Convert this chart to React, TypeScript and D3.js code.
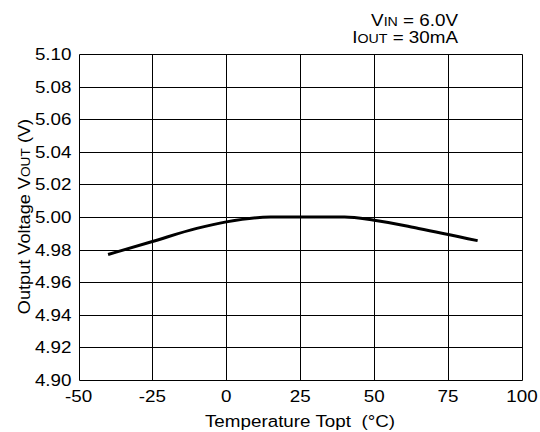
import React from 'react';
import * as d3 from 'd3';

// temperature (°C) and output voltage (V)
const temps = [-40, -25, -10, 0, 15, 25, 40, 50, 65, 85];
const vout = [4.977, 4.985, 4.993, 4.997, 5.0, 5.0, 5.0, 4.998, 4.993, 4.9855];

const xTicks = [-50, -25, 0, 25, 50, 75, 100];
const yTicks = [4.9, 4.92, 4.94, 4.96, 4.98, 5.0, 5.02, 5.04, 5.06, 5.08, 5.1];

const W = 540;
const H = 432;
const left = 78.5;
const right = 522;
const top = 54;
const bottom = 380;
const font = 'Liberation Sans, Arial, Helvetica, sans-serif';
const fs = 16.5;
const stretch = 1.14;

// text drawn a bit wider than normal, like the original
const Wide: React.FC<{ x: number; y: number; anchor?: string; children: React.ReactNode }> = ({ x, y, anchor = 'start', children }) => (
    <g transform={`translate(${x},${y}) scale(${stretch},1)`}>
        <text textAnchor={anchor} fontSize={fs} style={{ whiteSpace: 'pre' }}>{children}</text>
    </g>
);

const App: React.FC = () => {
    const x = d3.scaleLinear().domain([-50, 100]).range([left, right]);
    const y = d3.scaleLinear().domain([4.9, 5.1]).range([bottom, top]);

    const line = d3.line<number>()
        .x((_, i) => x(temps[i]))
        .y(d => y(d))
        .curve(d3.curveMonotoneX);

    const px = (v: number) => Math.round(v) + 0.5;

    return (
        <svg width={W} height={H} style={{ position: 'absolute', left: 0, top: 0, background: '#fff' }}
            fontFamily={font}>
            {/* grid */}
            {yTicks.map(t => (
                <line key={'y' + t} x1={px(left)} x2={px(right)} y1={px(y(t))} y2={px(y(t))}
                    stroke="#000" strokeWidth={1} />
            ))}
            {xTicks.map(t => (
                <line key={'x' + t} y1={px(top)} y2={px(bottom)} x1={px(x(t))} x2={px(x(t))}
                    stroke="#000" strokeWidth={1} />
            ))}

            {/* curve */}
            <path d={line(vout) || ''} fill="none" stroke="#000" strokeWidth={3} />

            {/* y tick labels */}
            {yTicks.map(t => (
                <Wide key={'yl' + t} x={71.5} y={y(t) + 6} anchor="end">{t.toFixed(2)}</Wide>
            ))}
            {/* x tick labels */}
            {xTicks.map(t => (
                <Wide key={'xl' + t} x={x(t)} y={402} anchor="middle">{String(t)}</Wide>
            ))}

            {/* axis titles */}
            <Wide x={300} y={427} anchor="middle">Temperature Topt  (°C)</Wide>
            <g transform={`translate(30, ${(top + bottom) / 2 - 0.5}) rotate(-90) scale(1.1,1)`}>
                <text textAnchor="middle" fontSize={fs}>
                    Output Voltage V<tspan fontSize={12.5}>OUT</tspan> (V)
                </text>
            </g>

            {/* conditions */}
            <Wide x={458} y={26} anchor="end">V<tspan fontSize={12.5}>IN</tspan> = 6.0V</Wide>
            <Wide x={458} y={42.5} anchor="end">I<tspan fontSize={12.5}>OUT</tspan> = 30mA</Wide>
        </svg>
    );
};

export default App;
